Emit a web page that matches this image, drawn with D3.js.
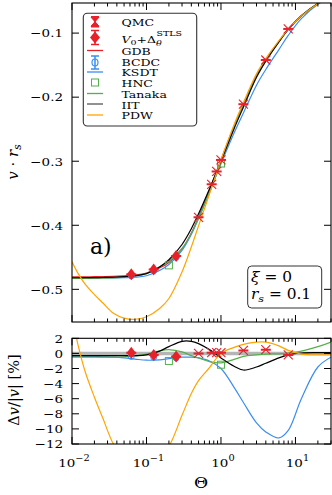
<!DOCTYPE html>
<html>
<head>
<meta charset="utf-8">
<script src="https://cdn.jsdelivr.net/npm/d3@7"></script>
<style>
  body { margin: 0; background: #fff; }
  svg { display: block; }
  text { font-family: "DejaVu Serif", serif; fill: #000; }
</style>
</head>
<body>
<svg id="chart" width="332" height="495"></svg>
<script>
// ===========================//
// DATA
// ===========================//

// common theta grid for the model curves
var theta = [0.01, 0.012, 0.015, 0.02, 0.026, 0.036, 0.05, 0.07, 0.1, 0.15, 0.2, 0.3, 0.4,
             0.5, 0.7, 1, 1.5, 2, 3, 4, 6, 8, 12, 20, 30];

// upper panel: v * r_s
var vGDB    = [-0.4805, -0.4805, -0.4804, -0.4803, -0.4801, -0.4797, -0.4788, -0.4775, -0.4745, -0.4665, -0.458, -0.437, -0.412,
               -0.387, -0.345, -0.298, -0.245, -0.211, -0.166, -0.142, -0.113, -0.094, -0.073, -0.054, -0.043];
var vKSDT   = [-0.4824, -0.4824, -0.4823, -0.4822, -0.4823, -0.4821, -0.4817, -0.4811, -0.4788, -0.4705, -0.4612, -0.4392, -0.4141,
               -0.3893, -0.3485, -0.3040, -0.2560, -0.2247, -0.1813, -0.1568, -0.1257, -0.1036, -0.0774, -0.0550, -0.0432];
var vTanaka = [-0.4829, -0.4829, -0.4828, -0.4827, -0.4825, -0.4821, -0.4810, -0.4792, -0.4750, -0.4649, -0.4557, -0.4361, -0.4132,
               -0.3893, -0.3488, -0.3017, -0.2470, -0.2118, -0.1663, -0.1421, -0.1131, -0.0940, -0.0728, -0.0535, -0.0424];
var vIIT    = [-0.4819, -0.4819, -0.4818, -0.4817, -0.4815, -0.4811, -0.4802, -0.4789, -0.4754, -0.4651, -0.4539, -0.4300, -0.4054,
               -0.3820, -0.3433, -0.2998, -0.2492, -0.2156, -0.1690, -0.1438, -0.1137, -0.0942, -0.0730, -0.0539, -0.0430];
var vPDW    = [-0.4570, -0.4747, -0.4919, -0.5082, -0.5214, -0.5373, -0.5449, -0.5467, -0.5428, -0.5299, -0.5143, -0.4728, -0.4338,
               -0.4009, -0.3516, -0.2980, -0.2430, -0.2085, -0.1635, -0.1399, -0.1119, -0.0936, -0.0731, -0.0541, -0.0431];

// lower panel: relative deviation in %
var dKSDT   = [-0.4, -0.4, -0.4, -0.4, -0.45, -0.5, -0.6, -0.75, -0.9, -0.85, -0.7, -0.5, -0.5,
               -0.6, -1.0, -2.0, -4.5, -6.5, -9.2, -10.4, -11.2, -10.2, -6.0, -1.8, -0.5];
var dTanaka = [-0.5, -0.5, -0.5, -0.5, -0.5, -0.5, -0.45, -0.35, -0.1, 0.35, 0.5, 0.2, -0.3,
               -0.6, -1.1, -1.25, -0.8, -0.4, -0.2, -0.1, -0.05, 0.05, 0.3, 0.9, 1.5];
var dIIT    = [-0.3, -0.3, -0.3, -0.3, -0.3, -0.3, -0.3, -0.3, -0.2, 0.3, 0.9, 1.6, 1.6,
               1.3, 0.5, -0.6, -1.7, -2.2, -1.8, -1.3, -0.6, -0.2, 0.05, 0.1, 0.1];
var dPDW    = [4.9, 1.2, -2.4, -5.8, -8.6, -12.0, -13.8, -14.5, -14.4, -13.6, -12.3, -8.2, -5.3,
               -3.6, -1.9, 0.0, 0.8, 1.2, 1.5, 1.5, 1.0, 0.4, -0.1, -0.2, -0.2];

// QMC points
var qmcTheta = [0.5, 0.75, 0.875, 1, 2, 4, 8];
var qmcV     = [-0.3875, -0.336, -0.316, -0.298, -0.211, -0.142, -0.0935];
var qmcD     = [0.0, 0.1, 0.1, 0.1, 0.4, 0.5, -0.2];

// V0 + Delta STLS points
var stlsTheta = [0.0625, 0.125, 0.25];
var stlsV     = [-0.4766, -0.469, -0.448];
var stlsD     = [0.1, -0.2, -0.4];

// BCDC points
var bcdcTheta = [0.0625, 0.125, 0.25];
var bcdcV     = [-0.479, -0.471, -0.450];
var bcdcD     = [-0.4, -0.5, -0.6];

// HNC points
var hncTheta = [0.2, 1];
var hncV     = [-0.4626, -0.3036];
var hncD     = [-1.0, -1.5];

var yTicksTop = [-0.5, -0.4, -0.3, -0.2, -0.1];
var yTicksBot = [-12, -10, -8, -6, -4, -2, 0, 2];
var xMajor = [0.01, 0.1, 1, 10];
var xExp = ["−2", "−1", "0", "1"];

// ===========================//
// COLORS
// ===========================//
var cRed = "#e8202a", cBlue = "#3a8ef0", cGreen = "#55b04a", cOrange = "#ffa500", cBlack = "#000";

// ===========================//
// SCALES
// ===========================//
var X0 = 72, X1 = 331;
var x = d3.scaleLog().domain([0.01, 30]).range([X0, X1]);
var yTop = d3.scaleLinear().domain([-0.551, -0.053]).range([322, 3]);
var yBot = d3.scaleLinear().domain([-12, 2]).range([444, 338.3]);

var svg = d3.select("#chart");
var SX = 1.15;   // fonts look horizontally stretched in the picture

function addText(x0, y0, anchor, size, sx) {
  var g = svg.append("g").attr("transform", "translate(" + x0 + "," + y0 + ") scale(" + (sx || SX) + ",1)");
  return g.append("text").attr("text-anchor", anchor).style("font-size", size + "px");
}

// clip paths
var defs = svg.append("defs");
defs.append("clipPath").attr("id", "clipTop").append("rect")
  .attr("x", X0).attr("y", yTop.range()[1]).attr("width", X1 - X0).attr("height", yTop.range()[0] - yTop.range()[1]);
defs.append("clipPath").attr("id", "clipBot").append("rect")
  .attr("x", X0).attr("y", yBot.range()[1]).attr("width", X1 - X0).attr("height", yBot.range()[0] - yBot.range()[1]);

// ===========================//
// CURVES
// ===========================//
function drawPanel(y, clip, series, pts) {
  var g = svg.append("g").attr("clip-path", "url(#" + clip + ")");
  var line = d3.line()
    .x(function(d){ return x(d[0]) })
    .y(function(d){ return y(d[1]) })
    .curve(d3.curveCatmullRom.alpha(0.5));

  series.forEach(function(s){
    g.append("path")
      .datum(theta.map(function(t, i){ return [t, s.values[i]] }))
      .attr("d", line)
      .attr("fill", "none")
      .attr("stroke", s.color)
      .attr("stroke-width", s.width || 1.2);
  });

  // BCDC (blue circles)
  pts.bcdc.forEach(function(d){
    g.append("circle").attr("cx", x(d[0])).attr("cy", y(d[1])).attr("r", 3)
      .attr("fill", "none").attr("stroke", cBlue).attr("stroke-width", 1);
  });

  // HNC squares
  pts.hnc.forEach(function(d){
    g.append("rect").attr("x", x(d[0]) - 3.5).attr("y", y(d[1]) - 3.5)
      .attr("width", 7).attr("height", 7)
      .attr("fill", "none").attr("stroke", cGreen).attr("stroke-width", 1);
  });

  // STLS diamonds
  pts.stls.forEach(function(d){
    var cx = x(d[0]), cy = y(d[1]);
    g.append("path").attr("d", "M" + cx + "," + (cy - 6) + "L" + (cx + 4.5) + "," + cy + "L" + cx + "," + (cy + 6) + "L" + (cx - 4.5) + "," + cy + "Z")
      .attr("fill", cRed);
    g.append("line").attr("x1", cx - 5).attr("x2", cx + 5).attr("y1", cy).attr("y2", cy)
      .attr("stroke", cRed).attr("stroke-width", 2);
  });

  // QMC crosses
  pts.qmc.forEach(function(d){
    var cx = x(d[0]), cy = y(d[1]), r = 4.5;
    g.append("path").attr("d", "M" + (cx - r) + "," + (cy - r) + "L" + (cx + r) + "," + (cy + r) + "M" + (cx - r) + "," + (cy + r) + "L" + (cx + r) + "," + (cy - r))
      .attr("stroke", cRed).attr("stroke-width", 1.1);
    g.append("line").attr("x1", cx - 5).attr("x2", cx + 5).attr("y1", cy).attr("y2", cy)
      .attr("stroke", cRed).attr("stroke-width", 2);
  });
}

function zip(a, b){ return a.map(function(t, i){ return [t, b[i]] }) }

drawPanel(yTop, "clipTop", [
  {values: vGDB, color: cRed},
  {values: vKSDT, color: cBlue},
  {values: vTanaka, color: cGreen},
  {values: vIIT, color: cBlack},
  {values: vPDW, color: cOrange}
], {
  qmc: zip(qmcTheta, qmcV), stls: zip(stlsTheta, stlsV),
  bcdc: zip(bcdcTheta, bcdcV), hnc: zip(hncTheta, hncV)
});

// gray zero line in the lower panel, below the curves
svg.append("line")
  .attr("x1", X0).attr("x2", X1).attr("y1", yBot(0)).attr("y2", yBot(0))
  .attr("stroke", "#b5b5b5").attr("stroke-width", 3.5);

drawPanel(yBot, "clipBot", [
  {values: dKSDT, color: cBlue},
  {values: dTanaka, color: cGreen},
  {values: dIIT, color: cBlack},
  {values: dPDW, color: cOrange}
], {
  qmc: zip(qmcTheta, qmcD), stls: zip(stlsTheta, stlsD),
  bcdc: zip(bcdcTheta, bcdcD), hnc: zip(hncTheta, hncD)
});

// ===========================//
// FRAMES + TICKS
// ===========================//
var xTicks = x.ticks();
function isMajor(t){ var l = Math.log10(t); return Math.abs(l - Math.round(l)) < 1e-6 }

function frame(y, yTicks) {
  var yA = y.range()[1], yB = y.range()[0];
  var g = svg.append("g").attr("stroke", "#000").attr("stroke-width", 1);
  xTicks.forEach(function(t){
    var len = isMajor(t) ? 7 : 3.5, xx = x(t);
    g.append("line").attr("x1", xx).attr("x2", xx).attr("y1", yB).attr("y2", yB - len);
    g.append("line").attr("x1", xx).attr("x2", xx).attr("y1", yA).attr("y2", yA + len);
  });
  yTicks.forEach(function(t){
    var yy = y(t);
    g.append("line").attr("x1", X0).attr("x2", X0 + 7).attr("y1", yy).attr("y2", yy);
    g.append("line").attr("x1", X1).attr("x2", X1 - 7).attr("y1", yy).attr("y2", yy);
  });
  svg.append("rect").attr("x", X0).attr("y", yA).attr("width", X1 - X0).attr("height", yB - yA)
    .attr("fill", "none").attr("stroke", "#000").attr("stroke-width", 1.1);
}
frame(yTop, yTicksTop);
frame(yBot, yTicksBot);

// y tick labels
var fmt1 = d3.format(".1f");
yTicksTop.forEach(function(t){
  addText(63, yTop(t) + 4.3, "end", 11.7).text(fmt1(t));
});
yTicksBot.forEach(function(t){
  addText(63, yBot(t) + 4.3, "end", 11.7).text(d3.format("d")(t));
});

// x tick labels (lower panel)
xMajor.forEach(function(t, i){
  var tx = addText(x(t) + 2, 467, "middle", 11.7);
  tx.append("tspan").text("10");
  tx.append("tspan").attr("dy", -6).style("font-size", "8.5px").text(xExp[i]);
});

// axis titles
addText(201, 488, "middle", 15).text("Θ");

var yl = svg.append("text")
  .attr("transform", "translate(18,162) rotate(-90)")
  .attr("text-anchor", "middle").style("font-size", "15px");
yl.append("tspan").style("font-style", "italic").text("v");
yl.append("tspan").text(" · ");
yl.append("tspan").style("font-style", "italic").text("r");
yl.append("tspan").attr("dy", 3).style("font-size", "10.5px").style("font-style", "italic").text("s");

var yl2 = svg.append("text")
  .attr("transform", "translate(19,390) rotate(-90)")
  .attr("text-anchor", "middle").style("font-size", "14.5px");
yl2.append("tspan").text("Δ");
yl2.append("tspan").style("font-style", "italic").text("v");
yl2.append("tspan").text("/|");
yl2.append("tspan").style("font-style", "italic").text("v");
yl2.append("tspan").text("| [%]");

// panel label
addText(90, 254, "start", 22, 1).text("a)");

// ===========================//
// INFO BOX
// ===========================//
svg.append("rect").attr("x", 247.7).attr("y", 266).attr("width", 74).attr("height", 42).attr("rx", 4)
  .attr("fill", "#fff").attr("stroke", "#333").attr("stroke-width", 1);
var i1 = addText(251, 282, "start", 14, 1.1);
i1.append("tspan").style("font-style", "italic").text("ξ");
i1.append("tspan").text(" = 0");
var i2 = addText(251, 299, "start", 14, 1.1);
i2.append("tspan").style("font-style", "italic").text("r");
i2.append("tspan").attr("dy", 3).style("font-size", "10px").style("font-style", "italic").text("s");
i2.append("tspan").attr("dy", -3).text(" = 0.1");

// ===========================//
// LEGEND
// ===========================//
svg.append("rect").attr("x", 83.3).attr("y", 13.3).attr("width", 113.4).attr("height", 112.7).attr("rx", 4)
  .attr("fill", "#fff").attr("stroke", "#333").attr("stroke-width", 1.1);

var lx = 95, tx0 = 121.5;
var legendRows = [
  {name: "QMC", sym: "qmc", y: 21.7, base: 25.5},
  {name: "stls", sym: "stls", y: 37.5, base: 42.5},
  {name: "GDB", sym: "line", color: cRed, y: 50.5, base: 55},
  {name: "BCDC", sym: "bcdc", y: 62.5, base: 65.7},
  {name: "KSDT", sym: "line", color: cBlue, y: 72, base: 76.4},
  {name: "HNC", sym: "hnc", y: 82.5, base: 87.1},
  {name: "Tanaka", sym: "line", color: cGreen, y: 93.5, base: 97.8},
  {name: "IIT", sym: "line", color: "#555", y: 104, base: 108.5},
  {name: "PDW", sym: "line", color: cOrange, y: 115, base: 119.2}
];

legendRows.forEach(function(r){
  var cy = r.y;
  if (r.sym == "line") {
    svg.append("line").attr("x1", 87).attr("x2", 103).attr("y1", cy).attr("y2", cy)
      .attr("stroke", r.color).attr("stroke-width", 1.3);
  }
  if (r.sym == "qmc") {
    svg.append("path").attr("d", "M" + (lx - 4) + "," + (cy - 4.5) + "L" + (lx + 4) + "," + (cy - 4.5) + "L" + (lx - 4) + "," + (cy + 4.5) + "L" + (lx + 4) + "," + (cy + 4.5) + "Z")
      .attr("fill", cRed).attr("stroke", cRed).attr("stroke-width", 1);
    svg.append("path").attr("d", "M" + (lx - 4) + "," + (cy - 5) + "H" + (lx + 4) + "M" + (lx - 4) + "," + (cy + 5) + "H" + (lx + 4) + "M" + lx + "," + (cy - 5) + "V" + (cy + 5))
      .attr("stroke", cRed).attr("stroke-width", 1.5);
  }
  if (r.sym == "stls") {
    svg.append("path").attr("d", "M" + lx + "," + (cy - 6) + "L" + (lx + 5) + "," + cy + "L" + lx + "," + (cy + 6) + "L" + (lx - 5) + "," + cy + "Z")
      .attr("fill", cRed);
    svg.append("path").attr("d", "M" + (lx - 4) + "," + (cy - 7) + "H" + (lx + 4) + "M" + (lx - 4) + "," + (cy + 7) + "H" + (lx + 4) + "M" + lx + "," + (cy - 7) + "V" + (cy + 7))
      .attr("stroke", cRed).attr("stroke-width", 1.5);
  }
  if (r.sym == "bcdc") {
    svg.append("ellipse").attr("cx", lx).attr("cy", cy).attr("rx", 3).attr("ry", 3.5)
      .attr("fill", "none").attr("stroke", cBlue).attr("stroke-width", 1.2);
    svg.append("path").attr("d", "M" + (lx - 4) + "," + (cy - 6.5) + "H" + (lx + 4) + "M" + (lx - 4) + "," + (cy + 6.5) + "H" + (lx + 4) + "M" + lx + "," + (cy - 6.5) + "V" + (cy + 6.5))
      .attr("stroke", cBlue).attr("stroke-width", 1.5);
  }
  if (r.sym == "hnc") {
    svg.append("rect").attr("x", lx - 3.5).attr("y", cy - 3.5).attr("width", 7).attr("height", 7)
      .attr("fill", "none").attr("stroke", cGreen).attr("stroke-width", 1);
  }

  var t = addText(tx0, r.base, "start", 9.2, 1.36);
  if (r.name == "stls") {
    t.append("tspan").style("font-style", "italic").text("V");
    t.append("tspan").attr("dy", 2.5).style("font-size", "7px").text("0");
    t.append("tspan").attr("dy", -2.5).text("+Δ");
    t.append("tspan").attr("dy", 3).style("font-size", "7px").style("font-style", "italic").text("θ");
    t.append("tspan").attr("dx", -4).attr("dy", -9.5).style("font-size", "7px").text("STLS");
  } else {
    t.text(r.name);
  }
});
</script>
</body>
</html>
